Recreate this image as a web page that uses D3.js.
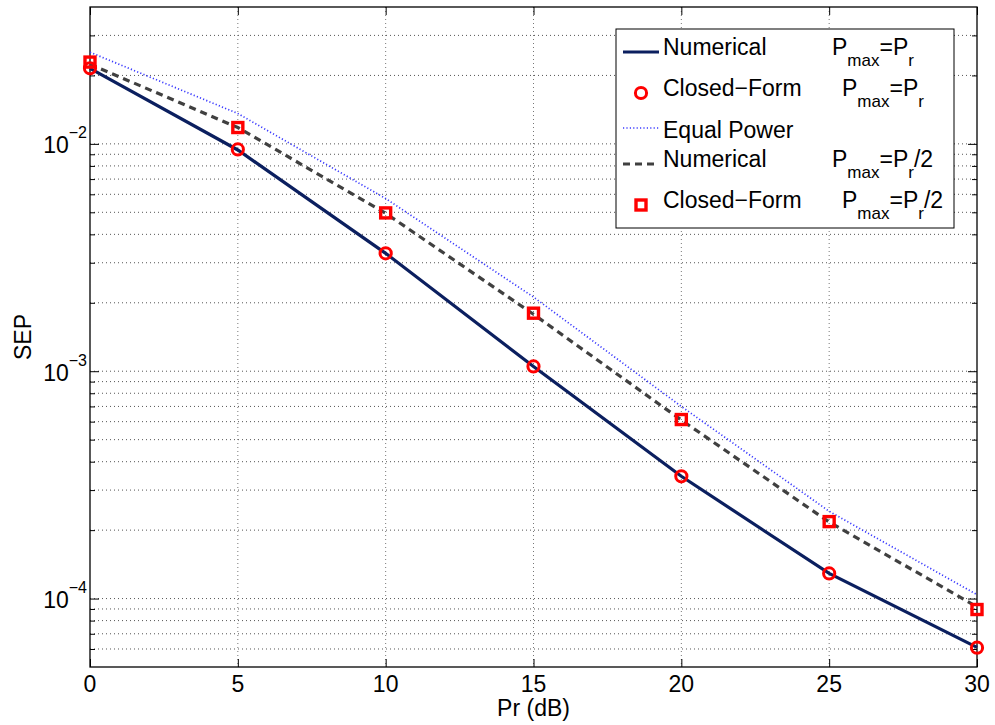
<!DOCTYPE html>
<html><head><meta charset="utf-8">
<script src="https://cdn.jsdelivr.net/npm/d3@7"></script>
<style>body{margin:0;background:#fff}svg{display:block}text{font-family:"Liberation Sans",Arial,Helvetica,sans-serif;fill:#000}</style>
</head><body><svg id="c" width="995" height="725"></svg>
<script>
const prDb = [0, 5, 10, 15, 20, 25, 30];
const numericalFull = [0.0215, 0.0094, 0.0033, 0.00105, 3.45e-4, 1.29e-4, 6.1e-5];
const closedFormFull = [0.0215, 0.00945, 0.0033, 0.00105, 3.45e-4, 1.29e-4, 6.08e-5];
const equalPower = [0.0253, 0.0136, 0.00575, 0.00212, 7.0e-4, 2.42e-4, 1.04e-4];
const numericalHalf = [0.0224, 0.0118, 0.00495, 0.00178, 6.1e-4, 2.17e-4, 9.2e-5];
const closedFormHalf = [0.0229, 0.0118, 0.00497, 0.0018, 6.13e-4, 2.18e-4, 8.95e-5];
const xTicks = [0, 5, 10, 15, 20, 25, 30];
const yMajorExp = [-2, -3, -4];
const legendLabels = ["Numerical", "Closed−Form", "Equal Power", "Numerical", "Closed−Form"];
const legendSuffix = ["", "", null, "/2", "/2"];

const svg = d3.select("#c");
const L = 90, R = 977, T = 7, B = 667;
const FS = 23;
const x = d3.scaleLinear().domain([0, 30]).range([L, R]);
const y = d3.scaleLog().domain([5e-5, 4e-2]).range([B, T]);

// grid
const minor = [];
for (let e = -5; e <= -2; e++) for (let m = 1; m <= 9; m++) {
  const v = m * Math.pow(10, e);
  if (v > 5e-5 && v < 4e-2) minor.push(v);
}
const g = svg.append("g");
g.selectAll(".gy").data(minor).join("line")
  .attr("x1", L).attr("x2", R).attr("y1", d => y(d)).attr("y2", d => y(d))
  .attr("stroke", "#555").attr("stroke-width", 1).attr("stroke-dasharray", "1,3");
g.selectAll(".gx").data(xTicks.slice(1, -1)).join("line")
  .attr("x1", d => x(d)).attr("x2", d => x(d)).attr("y1", T).attr("y2", B)
  .attr("stroke", "#777").attr("stroke-width", 1).attr("stroke-dasharray", "1,3");

// axes with inward ticks
const axB = d3.axisBottom(x).tickValues(xTicks).tickSize(-8).tickFormat("");
const axT = d3.axisTop(x).tickValues(xTicks).tickSize(-8).tickFormat("");
svg.append("g").attr("transform", `translate(0,${B})`).call(axB);
svg.append("g").attr("transform", `translate(0,${T})`).call(axT);
const majors = yMajorExp.map(e => Math.pow(10, e));
const minorOnly = minor.filter(v => !majors.some(m => Math.abs(m - v) / m < 1e-6));
svg.append("g").attr("transform", `translate(${L},0)`).call(d3.axisLeft(y).tickValues(majors).tickSize(-9).tickFormat(""));
svg.append("g").attr("transform", `translate(${L},0)`).call(d3.axisLeft(y).tickValues(minorOnly).tickSize(-5).tickFormat(""));
svg.append("g").attr("transform", `translate(${R},0)`).call(d3.axisRight(y).tickValues(majors).tickSize(-9).tickFormat(""));
svg.append("g").attr("transform", `translate(${R},0)`).call(d3.axisRight(y).tickValues(minorOnly).tickSize(-5).tickFormat(""));
svg.selectAll(".domain").remove();
svg.selectAll(".tick line").attr("stroke", "#000").attr("stroke-width", 1);
svg.append("rect").attr("x", L).attr("y", T).attr("width", R - L).attr("height", B - T)
  .attr("fill", "none").attr("stroke", "#000").attr("stroke-width", 1.3);

// tick labels
svg.selectAll(".xl").data(xTicks).join("text")
  .attr("x", d => x(d)).attr("y", 692).attr("text-anchor", "middle")
  .attr("font-size", FS).text(d => d);
const yl = svg.selectAll(".yl").data(yMajorExp).join("text")
  .attr("x", 87).attr("y", d => y(Math.pow(10, d)) + 9.5).attr("text-anchor", "end").attr("font-size", FS);
yl.append("tspan").text("10");
yl.append("tspan").attr("font-size", 16).attr("dy", -15).text(d => "−" + Math.abs(d));

svg.append("text").attr("x", (L + R) / 2).attr("y", 716).attr("text-anchor", "middle").attr("font-size", FS).text("Pr (dB)");
svg.append("text").attr("transform", `translate(31,${(T + B) / 2}) rotate(-90)`).attr("text-anchor", "middle").attr("font-size", FS).text("SEP");

// series
const line = d3.line().x((d, i) => x(prDb[i])).y(d => y(d));
const plot = svg.append("g");
plot.append("path").attr("d", line(equalPower)).attr("fill", "none")
  .attr("stroke", "#3a3aff").attr("stroke-width", 1.7).attr("stroke-dasharray", "1.2,2.2");
plot.append("path").attr("d", line(numericalHalf)).attr("fill", "none")
  .attr("stroke", "#404040").attr("stroke-width", 3.2).attr("stroke-dasharray", "7,5");
plot.append("path").attr("d", line(numericalFull)).attr("fill", "none")
  .attr("stroke", "#0b1f5f").attr("stroke-width", 3.2);
plot.selectAll(".ci").data(closedFormFull).join("circle")
  .attr("cx", (d, i) => x(prDb[i])).attr("cy", d => y(d)).attr("r", 5.6)
  .attr("fill", "none").attr("stroke", "#ff0000").attr("stroke-width", 3);
plot.selectAll(".sq").data(closedFormHalf).join("rect")
  .attr("x", (d, i) => x(prDb[i]) - 5).attr("y", d => y(d) - 5).attr("width", 10).attr("height", 10)
  .attr("fill", "none").attr("stroke", "#ff0000").attr("stroke-width", 3.4);

// legend
const lg = svg.append("g");
lg.append("rect").attr("x", 616).attr("y", 29).attr("width", 338).attr("height", 199)
  .attr("fill", "#fff").attr("stroke", "#000").attr("stroke-width", 1);
const rowY = [52, 93, 128, 164, 205];
const baseY = [55, 96, 138, 167, 208];
const sufX = [832, 842, 0, 832, 842];
lg.append("line").attr("x1", 623).attr("x2", 659).attr("y1", rowY[0]).attr("y2", rowY[0]).attr("stroke", "#0b1f5f").attr("stroke-width", 3.2);
lg.append("circle").attr("cx", 641).attr("cy", rowY[1]).attr("r", 5.6).attr("fill", "none").attr("stroke", "#ff0000").attr("stroke-width", 3);
lg.append("line").attr("x1", 623).attr("x2", 659).attr("y1", rowY[2]).attr("y2", rowY[2]).attr("stroke", "#3a3aff").attr("stroke-width", 1.7).attr("stroke-dasharray", "1.2,2.2");
lg.append("line").attr("x1", 623).attr("x2", 659).attr("y1", rowY[3]).attr("y2", rowY[3]).attr("stroke", "#404040").attr("stroke-width", 3.2).attr("stroke-dasharray", "7,5");
lg.append("rect").attr("x", 636).attr("y", rowY[4] - 5).attr("width", 10).attr("height", 10).attr("fill", "none").attr("stroke", "#ff0000").attr("stroke-width", 3.4);
legendLabels.forEach((lab, i) => {
  lg.append("text").attr("x", 663).attr("y", baseY[i]).attr("font-size", FS).text(lab);
  if (legendSuffix[i] !== null) {
    const t = lg.append("text").attr("x", sufX[i]).attr("y", baseY[i]).attr("font-size", FS);
    t.append("tspan").text("P");
    t.append("tspan").attr("font-size", 17).attr("dy", 11).text("max");
    t.append("tspan").attr("dy", -11).text("=P");
    t.append("tspan").attr("font-size", 17).attr("dy", 11).text("r");
    if (legendSuffix[i]) t.append("tspan").attr("dy", -11).text(legendSuffix[i]);
  }
});
</script></body></html>
